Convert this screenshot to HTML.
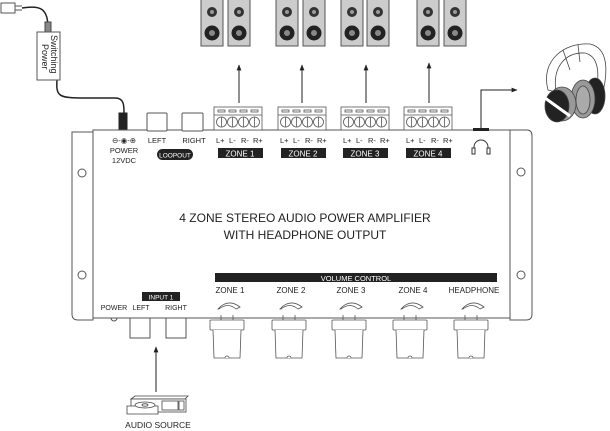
<!DOCTYPE html>
<html><head><meta charset="utf-8"><style>
html,body{margin:0;padding:0;background:#fff}
svg{display:block}
text{font-family:"Liberation Sans",sans-serif;fill:#222}
</style></head><body>
<svg width="610" height="431" viewBox="0 0 610 431" xmlns="http://www.w3.org/2000/svg">
<defs>
<g id="spk"><rect x="0" y="-2" width="22" height="48" fill="#ccc" stroke="#555" stroke-width="1"/><circle cx="11" cy="12" r="5" fill="#333"/><circle cx="11" cy="12" r="2" fill="#999"/><circle cx="11" cy="33" r="7.5" fill="#222"/><circle cx="11" cy="33" r="3" fill="#888"/></g>
<g id="tb" fill="#fff" stroke="#555" stroke-width="0.8"><rect x="0" y="0" width="48" height="23"/><line x1="0" y1="8" x2="48" y2="8"/>
<rect x="4" y="3" width="7" height="2"/><rect x="15" y="3" width="7" height="2"/><rect x="26" y="3" width="7" height="2"/><rect x="37" y="3" width="7" height="2"/>
<circle cx="7.5" cy="15" r="5"/><circle cx="18.5" cy="15" r="5"/><circle cx="29.5" cy="15" r="5"/><circle cx="40.5" cy="15" r="5"/>
<line x1="7.5" y1="10" x2="7.5" y2="20"/><line x1="18.5" y1="10" x2="18.5" y2="20"/><line x1="29.5" y1="10" x2="29.5" y2="20"/><line x1="40.5" y1="10" x2="40.5" y2="20"/></g>
<g id="lbl" font-size="7.5"><text x="0" y="0">L+</text><text x="13" y="0">L-</text><text x="25" y="0">R-</text><text x="37" y="0">R+</text></g>
<g id="knob" fill="#fff" stroke="#555" stroke-width="0.8"><path d="M-9 9 Q1 -2 13 7 L9 9 Q1 2 -8 9 Z"/><line x1="-6" y1="15" x2="-6" y2="20"/><line x1="6" y1="15" x2="6" y2="20"/><rect x="-17" y="20" width="34" height="10" rx="1"/><path d="M-14 30 L-13 58 L13 58 L14 30"/><path d="M-2 58 a2 2 0 0 1 4 0"/></g>
<marker id="ar" viewBox="0 0 10 10" refX="9" refY="5" markerWidth="6" markerHeight="6" orient="auto"><path d="M0 1 L10 5 L0 9 Z" fill="#222"/></marker>
</defs>

<use href="#spk" x="201" y="0"/><use href="#spk" x="228" y="0"/>
<use href="#spk" x="276" y="0"/><use href="#spk" x="303" y="0"/>
<use href="#spk" x="341" y="0"/><use href="#spk" x="367" y="0"/>
<use href="#spk" x="417" y="0"/><use href="#spk" x="444" y="0"/>

<g stroke="#222" stroke-width="1" fill="none" marker-end="url(#ar)">
<line x1="239" y1="103" x2="239" y2="65"/><line x1="302" y1="103" x2="302" y2="65"/>
<line x1="366" y1="103" x2="366" y2="65"/><line x1="429" y1="103" x2="429" y2="63"/>
<line x1="156" y1="392" x2="156" y2="347"/>
<polyline points="481,128 481,90 517,90"/>
</g>

<g stroke="#222" fill="none">
<rect x="1" y="3" width="14" height="10" fill="#fff" stroke="#555"/>
<path d="M15 6 L22 6 M15 10 L22 10" stroke="#555"/>
<path d="M22 8 C40 5 48 8 48 28" stroke-width="1.5"/>
<rect x="45" y="22" width="6" height="10" fill="#888" stroke="#444"/>
<path d="M57 80 C56 95 58 98 80 98 L115 98 C124 98 124 105 124 113" stroke-width="1.5"/>
<rect x="119" y="113" width="8" height="18" fill="#222"/>
</g>
<rect x="37" y="32" width="23" height="48" fill="#fff" stroke="#555"/>
<text transform="translate(51,35) rotate(90)" font-size="9">Switching</text>
<text transform="translate(42,44) rotate(90)" font-size="9">Power</text>

<path d="M72 132 L93 132 L93 320 L78 320 Q72 320 72 314 Z" fill="#fff" stroke="#555"/>
<path d="M93 130 L510 130 L510 318 L93 318 Z" fill="#fff" stroke="#555"/>
<path d="M510 130 L527 130 Q532 130 532 136 L532 314 Q532 320 526 320 L510 320 Z" fill="#fff" stroke="#555"/>
<circle cx="82" cy="173" r="4" fill="#fff" stroke="#555"/>
<circle cx="82" cy="275" r="4" fill="#fff" stroke="#555"/>
<circle cx="521" cy="172" r="4" fill="#fff" stroke="#555"/>
<circle cx="521" cy="275" r="4" fill="#fff" stroke="#555"/>
<rect x="473" y="128" width="16" height="3" fill="#222"/>

<rect x="147" y="113" width="20" height="18" rx="1" fill="#fff" stroke="#555"/>
<rect x="182" y="113" width="21" height="18" rx="1" fill="#fff" stroke="#555"/>

<use href="#tb" x="214" y="107"/><use href="#tb" x="278" y="107"/>
<use href="#tb" x="341" y="107"/><use href="#tb" x="404" y="107"/>

<g font-size="7.5" text-anchor="middle">
<text x="124" y="143">⊖-◉-⊕</text>
<text x="124" y="153">POWER</text>
<text x="124" y="163">12VDC</text>
<text x="157" y="143">LEFT</text>
<text x="194" y="143">RIGHT</text>
</g>
<rect x="157" y="149" width="36" height="11" rx="5.5" fill="#222"/>
<text x="175" y="157.5" font-size="6.5" text-anchor="middle" style="fill:#fff">LOOPOUT</text>

<use href="#lbl" x="216" y="143"/><use href="#lbl" x="280" y="143"/>
<use href="#lbl" x="343" y="143"/><use href="#lbl" x="406" y="143"/>
<g fill="#222"><rect x="218" y="148" width="45" height="10"/><rect x="281" y="148" width="45" height="10"/><rect x="343" y="148" width="45" height="10"/><rect x="406" y="148" width="45" height="10"/></g>
<g font-size="8" text-anchor="middle">
<text x="240" y="156.5" style="fill:#fff">ZONE 1</text><text x="303" y="156.5" style="fill:#fff">ZONE 2</text>
<text x="365" y="156.5" style="fill:#fff">ZONE 3</text><text x="428" y="156.5" style="fill:#fff">ZONE 4</text>
</g>
<g stroke="#333" fill="none" stroke-width="1"><path d="M474 153 L474 147 A7 7 0 0 1 488 147 L488 153"/><rect x="472" y="148" width="3" height="6" fill="#fff"/><rect x="487" y="148" width="3" height="6" fill="#fff"/></g>

<g font-size="12" text-anchor="middle">
<text x="305" y="222">4 ZONE STEREO AUDIO POWER AMPLIFIER</text>
<text x="305" y="239">WITH HEADPHONE OUTPUT</text>
</g>

<rect x="215" y="273" width="282" height="9" fill="#222"/>
<text x="356" y="281" font-size="7.5" text-anchor="middle" style="fill:#fff">VOLUME CONTROL</text>
<g font-size="8" text-anchor="middle">
<text x="230" y="293">ZONE 1</text><text x="291" y="293">ZONE 2</text><text x="351" y="293">ZONE 3</text><text x="413" y="293">ZONE 4</text><text x="474" y="293">HEADPHONE</text>
</g>
<use href="#knob" x="227" y="300"/><use href="#knob" x="289" y="300"/><use href="#knob" x="349" y="300"/><use href="#knob" x="410" y="300"/><use href="#knob" x="471" y="300"/>

<rect x="142" y="292" width="38" height="9" fill="#222"/>
<text x="161" y="299.5" font-size="6.5" text-anchor="middle" style="fill:#fff">INPUT 1</text>
<g font-size="7" text-anchor="middle"><text x="114" y="310">POWER</text><text x="141" y="310">LEFT</text><text x="176" y="310">RIGHT</text></g>
<path d="M111 318 a3 3 0 0 0 6 0" fill="none" stroke="#555"/>
<rect x="130" y="318" width="20" height="20" fill="#fff" stroke="#555"/>
<rect x="166" y="318" width="20" height="20" fill="#fff" stroke="#555"/>

<g fill="#fff" stroke="#444" stroke-width="0.8">
<path d="M131 399 L185 399 L188 396 L135 396 Z"/>
<rect x="131" y="399" width="55" height="13"/>
<path d="M127 406 L158 406 L158 414 L127 414 Z"/>
<ellipse cx="145" cy="405" rx="10" ry="3"/><ellipse cx="145" cy="405" rx="3" ry="1.2"/>
<rect x="162" y="401" width="16" height="9"/><rect x="179" y="401" width="5" height="9"/>
</g>
<text x="158" y="428" font-size="8.5" text-anchor="middle">AUDIO SOURCE</text>

<g stroke="#444" stroke-width="0.8">
<path d="M548 90 C540 60 565 42 590 44 C608 48 608 70 603 92 L596 92 C600 72 598 56 585 53 C566 52 552 66 556 92 Z" fill="#fff"/>
<path d="M563 50 L570 70 M578 45 L580 62" fill="none"/>
<ellipse cx="595" cy="96" rx="10" ry="18" fill="#222"/>
<ellipse cx="583" cy="99" rx="12" ry="19" fill="#999"/>
<ellipse cx="583" cy="100" rx="7" ry="14" fill="#aaa"/>
<ellipse cx="562" cy="104" rx="14" ry="17" fill="#999"/>
<ellipse cx="557" cy="106" rx="12" ry="16" fill="#222"/>
<path d="M545 98 L570 116" stroke="#fff" stroke-width="3"/>
</g>
</svg>
</body></html>
